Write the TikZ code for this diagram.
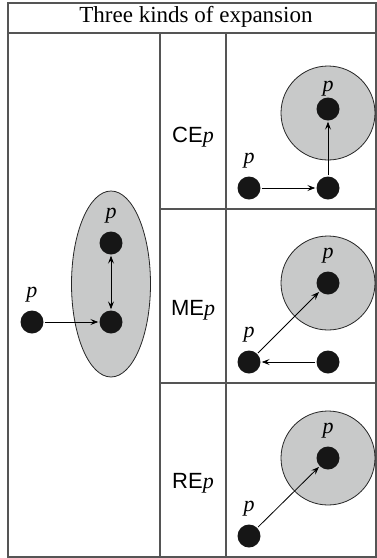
\documentclass[tikz,border=0pt]{standalone}
\usepackage{fontspec}
\setmainfont{Liberation Serif}
\setsansfont{Liberation Sans}
\usetikzlibrary{arrows.meta, positioning}
\definecolor{framegray}{RGB}{85, 85, 85}
\definecolor{regiongray}{RGB}{200, 201, 201}
\definecolor{dotblack}{RGB}{22, 22, 22}
\tikzset{
  >={Stealth[length=8pt, width=6pt, inset=3pt]},
  dot/.style={circle, fill=dotblack, inner sep=0pt, minimum size=23pt},
  region/.style={draw=black!85, fill=regiongray, line width=0.8pt},
  plabel/.style={font=\fontsize{22}{26}\selectfont\itshape, inner sep=0pt},
  kindlabel/.style={font=\fontsize{22}{26}\selectfont, inner sep=0pt},
  link/.style={->, line width=0.8pt, shorten >=1pt, shorten <=1pt},
  gridline/.style={draw=framegray, line width=1.2pt}
}

\begin{document}
\begin{tikzpicture}[x=1pt, y=-1pt]
        \useasboundingbox (0,0) rectangle (377,558);

        % Table frame
        \draw[gridline] (8,3) rectangle (376,557);
        \draw[gridline] (8,33) -- (376,33);
        \foreach \x in {160, 226}{
          \draw[gridline] (\x,33) -- (\x,557);
        }
        \foreach \y in {209, 383}{
          \draw[gridline] (160,\y) -- (376,\y);
        }
        \node[font=\fontsize{23}{27}\selectfont, inner sep=0pt] (title) at (196,17) {Three kinds of expansion};

        % Regions
        \draw[region] (111,284) ellipse [x radius=39.5, y radius=93];
        \foreach \y in {113, 283, 458}{
          \draw[region] (328,\y) circle (47);
        }

        % Left panel
        \node[dot] (L0) at (32,322) {};
        \node[dot] (L1) at (111,322) {};
        \node[dot] (L2) at (111,243) {};
        \node[plabel, above=8pt of L0] (pL0) {p};
        \node[plabel, above=8pt of L2] (pL2) {p};
        \draw[link] (L0) -- (L1);
        \draw[link, <->] (L1) -- (L2);

        % CEp
        \node[kindlabel] (ce) at (193,137) {\sffamily CE\rmfamily\itshape p};
        \node[dot] (C0) at (249,188) {};
        \node[dot] (C1) at (328,188) {};
        \node[dot] (C2) at (328,109) {};
        \node[plabel, above=8pt of C0] (pC0) {p};
        \node[plabel, above=1pt of C2] (pC2) {p};
        \draw[link] (C0) -- (C1);
        \draw[link] (C1) -- (C2);

        % MEp
        \node[kindlabel] (me) at (193,310) {\sffamily ME\rmfamily\itshape p};
        \node[dot] (M0) at (249,362) {};
        \node[dot] (M1) at (328,362) {};
        \node[dot] (M2) at (328,283) {};
        \node[plabel, above=8pt of M0] (pM0) {p};
        \node[plabel, above=8pt of M2] (pM2) {p};
        \draw[link] (M1) -- (M0);
        \draw[link] (M0) -- (M2);

        % REp
        \node[kindlabel] (re) at (193,483) {\sffamily RE\rmfamily\itshape p};
        \node[dot] (R0) at (249,536) {};
        \node[dot] (R2) at (328,458) {};
        \node[plabel, above=8pt of R0] (pR0) {p};
        \node[plabel, above=8pt of R2] (pR2) {p};
        \draw[link] (R0) -- (R2);
      \end{tikzpicture}
\end{document}
